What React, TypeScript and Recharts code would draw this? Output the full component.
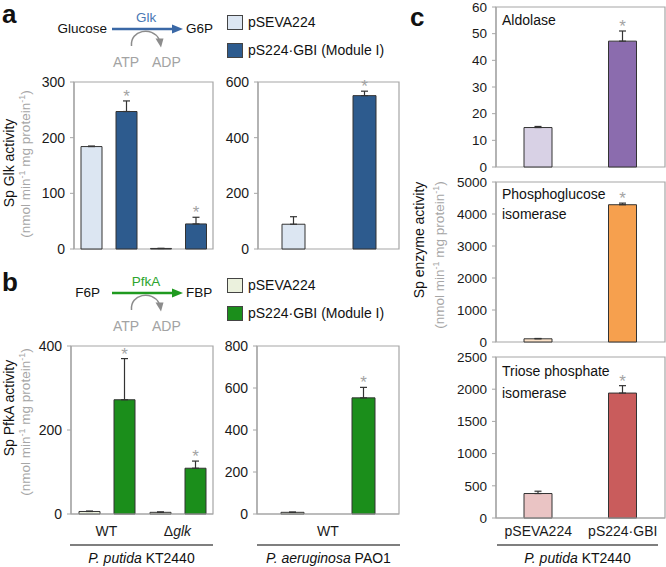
import React from "react"
import { Bar, BarChart, Cell, ErrorBar, LabelList, ReferenceArea, XAxis, YAxis } from "recharts"

const FONT = "'Liberation Sans', Arial, Helvetica, sans-serif"
const AXIS = "#a6a6a6"
const STAR = "#a3a3a3"
const EDGE = "#333333"

// panel a - Glk activity
const strains = ["WT", "Δglk"]
const glkControl = [184, 1]
const glkControlErr = [1, 0]
const glkModule = [247, 45]
const glkModuleErr = [19, 12]
const glkPaoControl = [89]
const glkPaoControlErr = [27]
const glkPaoModule = [551]
const glkPaoModuleErr = [16]

// panel b - PfkA activity
const pfkControl = [6, 4]
const pfkControlErr = [1, 1]
const pfkModule = [272, 109]
const pfkModuleErr = [98, 17]
const pfkPaoControl = [8]
const pfkPaoControlErr = [1]
const pfkPaoModule = [553]
const pfkPaoModuleErr = [50]

// panel c - other enzymes
const plasmids = ["pSEVA224", "pS224·GBI"]
const aldolase = [14.8, 47.2]
const aldolaseErr = [0.4, 3.8]
const pgi = [100, 4290]
const pgiErr = [10, 50]
const tpi = [380, 1940]
const tpiErr = [36, 115]

const groupRows = (names: string[], c: number[], ce: number[], m: number[], me: number[]) =>
  names.map((name, i) => ({
    name,
    ctrl: c[i],
    ctrlErr: [0, ce[i]],
    mod: m[i],
    modErr: [0, me[i]],
    star: (m[i] + me[i]) / m[i],
  }))

const enzymeRows = (vals: number[], errs: number[]) =>
  plasmids.map((name, i) => ({
    name,
    v: vals[i],
    err: [0, errs[i]],
    star: i === 1 ? (vals[i] + errs[i]) / vals[i] : null,
  }))

// asterisk above the error bar; value = (bar + err) / bar
const Star = (p: any) => {
  if (p.value == null || p.value === "") return null
  const vb = p.viewBox ?? p
  const x = vb.x ?? p.x
  const y = vb.y ?? p.y
  const w = vb.width ?? p.width
  const h = vb.height ?? p.height
  const bottom = y + h
  const top = bottom - h * Number(p.value)
  return (
    <text x={x + w / 2} y={top + 1} textAnchor="middle" fontSize={17} fill={STAR} fontFamily={FONT}>
      *
    </text>
  )
}

const CatTick = (dy: number) => (p: any) => {
  const v: string = p.payload.value
  return (
    <text x={p.x} y={p.y + dy} textAnchor="middle" fontSize={14} fill="#1a1a1a" fontFamily={FONT}>
      {v === "Δglk" ? (
        <>
          <tspan>Δ</tspan>
          <tspan fontStyle="italic">glk</tspan>
        </>
      ) : (
        v
      )}
    </text>
  )
}

function Chart({ box, rows, series, max, ticks, barSize, barGap = 4, yw = 40, xh = 0, xTick, cells, fs = 14 }: any) {
  const TOP = 12
  const RIGHT = 4
  const BOTTOM = 9
  return (
    <div style={{ position: "absolute", left: box.l - yw, top: box.t - TOP }}>
      <BarChart
        width={box.r - box.l + yw + RIGHT}
        height={box.b - box.t + TOP + xh + BOTTOM}
        data={rows}
        margin={{ top: TOP, right: RIGHT, bottom: BOTTOM, left: 0 }}
        barGap={barGap}
        barCategoryGap={0}
      >
        <ReferenceArea y1={0} y2={max} fill="none" stroke={AXIS} strokeWidth={1.2} ifOverflow="visible" />
        <XAxis
          dataKey="name"
          height={xh}
          axisLine={{ stroke: AXIS, strokeWidth: 1.2 }}
          tickLine={false}
          tickSize={0}
          tickMargin={0}
          tick={xTick ?? false}
          interval={0}
        />
        <YAxis
          width={yw}
          domain={[0, max]}
          ticks={ticks}
          interval={0}
          axisLine={{ stroke: AXIS, strokeWidth: 1.2 }}
          tickLine={{ stroke: AXIS }}
          tickSize={4}
          tickMargin={5}
          tick={{ fontSize: fs, fill: "#1a1a1a", fontFamily: FONT }}
        />
        {series.map((s: any) => (
          <Bar
            key={s.key}
            dataKey={s.key}
            fill={s.color}
            stroke={EDGE}
            strokeWidth={1}
            barSize={barSize}
            isAnimationActive={false}
          >
            {cells && rows.map((_: any, i: number) => <Cell key={i} fill={cells[i]} />)}
            <ErrorBar dataKey={s.err} width={3.5} stroke={EDGE} strokeWidth={1.2} direction="y" />
            {s.star && <LabelList dataKey={s.star} content={Star} />}
          </Bar>
        ))}
      </BarChart>
    </div>
  )
}

function Pathway({ dy, from, fromEnd, to, enzyme, color, enzymeColor }: any) {
  return (
    <g transform={`translate(0,${dy})`} fontSize={13.5}>
      <text x={fromEnd} y={33} textAnchor="end" fill="#111">
        {from}
      </text>
      <line x1={112} y1={29} x2={174} y2={29} stroke={color} strokeWidth={2.5} />
      <polygon points="172,24.5 183,29 172,33.5" fill={color} />
      <text x={146} y={21.5} textAnchor="middle" fill={enzymeColor}>
        {enzyme}
      </text>
      <text x={186} y={33} fill="#111">
        {to}
      </text>
      <path d="M131.5,46 C130,30 152,26 159,39" fill="none" stroke="#8c8c8c" strokeWidth={1.5} />
      <polygon points="155.5,38.5 163.5,38.5 161,47.5" fill="#8c8c8c" />
      <text x={113} y={66.5} fill="#a3a3a3" fontSize={14}>
        ATP
      </text>
      <text x={152} y={66.5} fill="#a3a3a3" fontSize={14}>
        ADP
      </text>
    </g>
  )
}

function Legend({ dy, light, dark }: any) {
  return (
    <g transform={`translate(0,${dy})`} fontSize={14} fill="#111">
      <rect x={227.5} y={15.5} width={15} height={14} fill={light} stroke="#444" />
      <text x={248} y={27}>pSEVA224</text>
      <rect x={227.5} y={43.5} width={15} height={14} fill={dark} stroke="#444" />
      <text x={248} y={55}>pS224·GBI (Module I)</text>
    </g>
  )
}

function YLabel({ x, y, xg, yg, title }: any) {
  return (
    <>
      <text transform={`translate(${x},${y}) rotate(-90)`} textAnchor="middle" fontSize={14} fill="#111">
        {title}
      </text>
      <text transform={`translate(${xg},${yg}) rotate(-90)`} textAnchor="middle" fontSize={13.5} fill="#a6a6a6">
        (nmol min
        <tspan dy={-5} fontSize={9}>
          -1
        </tspan>
        <tspan dy={5}> mg protein</tspan>
        <tspan dy={-5} fontSize={9}>
          -1
        </tspan>
        <tspan dy={5}>)</tspan>
      </text>
    </>
  )
}

function Group({ x1, x2, label, rest }: any) {
  return (
    <>
      <line x1={x1} x2={x2} y1={545} y2={545} stroke="#555" strokeWidth={1.5} />
      <text x={(x1 + x2) / 2} y={563} textAnchor="middle" fontSize={14} fill="#111">
        <tspan fontStyle="italic">{label}</tspan> {rest}
      </text>
    </>
  )
}

export default function App() {
  const glkRows = groupRows(strains, glkControl, glkControlErr, glkModule, glkModuleErr)
  const glkPaoRows = groupRows(["WT"], glkPaoControl, glkPaoControlErr, glkPaoModule, glkPaoModuleErr)
  const pfkRows = groupRows(strains, pfkControl, pfkControlErr, pfkModule, pfkModuleErr)
  const pfkPaoRows = groupRows(["WT"], pfkPaoControl, pfkPaoControlErr, pfkPaoModule, pfkPaoModuleErr)

  const blue = [
    { key: "ctrl", err: "ctrlErr", color: "#dce6f2" },
    { key: "mod", err: "modErr", color: "#2d5b8e", star: "star" },
  ]
  const green = [
    { key: "ctrl", err: "ctrlErr", color: "#ebf1dd" },
    { key: "mod", err: "modErr", color: "#1b8e1b", star: "star" },
  ]
  const one = [{ key: "v", err: "err", color: "#ccc", star: "star" }]

  return (
    <div
      style={{
        position: "absolute",
        left: 0,
        top: 0,
        width: 666,
        height: 567,
        background: "#fff",
        overflow: "hidden",
        fontFamily: FONT,
      }}
    >
      <svg width={666} height={567} style={{ position: "absolute", left: 0, top: 0 }} fontFamily={FONT}>
        <text x={2} y={23} fontSize={26} fontWeight="bold" fill="#111">
          a
        </text>
        <text x={2} y={291} fontSize={26} fontWeight="bold" fill="#111">
          b
        </text>
        <text x={410} y={26} fontSize={26} fontWeight="bold" fill="#111">
          c
        </text>
        <Pathway dy={0} from="Glucose" fromEnd={107} to="G6P" enzyme="Glk" color="#3a68a6" enzymeColor="#4a78b4" />
        <Pathway dy={264} from="F6P" fromEnd={100} to="FBP" enzyme="PfkA" color="#1f9a1f" enzymeColor="#2da52d" />
        <Legend dy={0} light="#dce6f2" dark="#2d5b8e" />
        <Legend dy={263} light="#ebf1dd" dark="#1b8e1b" />
        <YLabel x={13.5} y={163} xg={30} yg={164} title="Sp Glk activity" />
        <YLabel x={13.5} y={408} xg={30} yg={422} title="Sp PfkA activity" />
        <YLabel x={424} y={240} xg={444} yg={255} title="Sp enzyme activity" />
        <Group x1={70} x2={213} label="P. putida" rest="KT2440" />
        <Group x1={257} x2={400} label="P. aeruginosa" rest="PAO1" />
        <Group x1={497} x2={658} label="P. putida" rest="KT2440" />
      </svg>

      <Chart box={{ l: 74, t: 82, r: 213, b: 249 }} rows={glkRows} series={blue} max={300} ticks={[0, 100, 200, 300]} barSize={21} barGap={14} />
      <Chart box={{ l: 258, t: 82, r: 399, b: 249 }} rows={glkPaoRows} series={blue} max={600} ticks={[0, 200, 400, 600]} barSize={23} barGap={48} />
      <Chart box={{ l: 71, t: 346, r: 213, b: 514 }} rows={pfkRows} series={green} max={400} ticks={[0, 200, 400]} barSize={21} barGap={14} xh={30} xTick={CatTick(22)} />
      <Chart box={{ l: 257, t: 346, r: 399, b: 514 }} rows={pfkPaoRows} series={green} max={800} ticks={[0, 200, 400, 600, 800]} barSize={23} barGap={48} xh={30} xTick={CatTick(22)} />

      <Chart box={{ l: 496, t: 7, r: 665, b: 167 }} rows={enzymeRows(aldolase, aldolaseErr)} series={one} cells={["#d8d1e5", "#8b6cae"]} max={60} ticks={[0, 10, 20, 30, 40, 50, 60]} barSize={28} yw={45} fs={13.5} />
      <Chart box={{ l: 496, t: 182, r: 665, b: 342 }} rows={enzymeRows(pgi, pgiErr)} series={one} cells={["#fde3c9", "#f6a04e"]} max={5000} ticks={[0, 1000, 2000, 3000, 4000, 5000]} barSize={28} yw={45} fs={13.5} />
      <Chart box={{ l: 496, t: 357, r: 665, b: 518 }} rows={enzymeRows(tpi, tpiErr)} series={one} cells={["#eac4c4", "#c95c5c"]} max={2500} ticks={[0, 500, 1000, 1500, 2000, 2500]} barSize={28} yw={45} xh={26} xTick={CatTick(18)} fs={13.5} />

      <svg width={666} height={567} style={{ position: "absolute", left: 0, top: 0, pointerEvents: "none" }} fontFamily={FONT}>
        <text x={502} y={25} fontSize={14} fill="#111">Aldolase</text>
        <text x={502} y={199} fontSize={14} fill="#111">Phosphoglucose</text>
        <text x={502} y={219} fontSize={14} fill="#111">isomerase</text>
        <text x={502} y={376} fontSize={14} fill="#111">Triose phosphate</text>
        <text x={502} y={398} fontSize={14} fill="#111">isomerase</text>
      </svg>
    </div>
  )
}
